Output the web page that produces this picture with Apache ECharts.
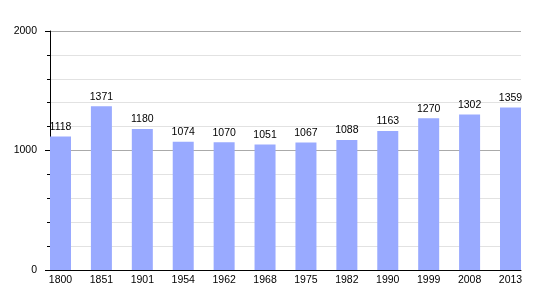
<!DOCTYPE html>
<html><head><meta charset="utf-8">
<script src="https://cdn.jsdelivr.net/npm/echarts@6/dist/echarts.min.js"></script>
<style>html,body{margin:0;padding:0;background:#fff}#c{width:550px;height:300px}</style>
</head><body><div id="c"></div>
<script>
const years = ['1800','1851','1901','1954','1962','1968','1975','1982','1990','1999','2008','2013'];
const population = [1118,1371,1180,1074,1070,1051,1067,1088,1163,1270,1302,1359];
const yTicks = [0, 1000, 2000];

const chart = echarts.init(document.getElementById('c'), null, {renderer:'canvas'});
const font = 'Liberation Sans, Arial, sans-serif';
chart.setOption({
  animation:false,
  grid:[
    {left:50, right:29, top:31, bottom:30},
    {left:60.5, right:39.5, top:31, bottom:30}
  ],
  xAxis:[
    {gridIndex:0, type:'value', min:0, max:1, show:true,
     axisLine:{show:true, lineStyle:{color:'#000', width:1}},
     axisTick:{show:false}, axisLabel:{show:false}, splitLine:{show:false}},
    {gridIndex:1, type:'category', data:years, boundaryGap:false,
     axisLine:{show:false}, axisTick:{show:false},
     axisLabel:{color:'#000', fontSize:10.5, fontFamily:font, margin:5, interval:0}}
  ],
  yAxis:[
    {gridIndex:0, type:'value', min:yTicks[0], max:yTicks[yTicks.length-1], interval:1000,
     axisLine:{show:true, lineStyle:{color:'#000', width:1}},
     axisTick:{show:true, length:5, lineStyle:{color:'#000'}},
     minorTick:{show:true, splitNumber:5, length:3, lineStyle:{color:'#000'}},
     axisLabel:{color:'#000', fontSize:10.5, fontFamily:font, margin:13, formatter:v => String(v)},
     splitLine:{show:true, lineStyle:{color:'#aaaaaa', width:1}},
     minorSplitLine:{show:true, lineStyle:{color:'#e2e2e2', width:1}}},
    {gridIndex:1, type:'value', min:0, max:2000, show:false, splitLine:{show:false}}
  ],
  series:[{
    type:'bar', xAxisIndex:1, yAxisIndex:1, data:population, barWidth:21,
    itemStyle:{color:'#99aaff'},
    label:{show:true, position:'top', distance:4, color:'#000', fontSize:10.5, fontFamily:font}
  }]
});
</script></body></html>
